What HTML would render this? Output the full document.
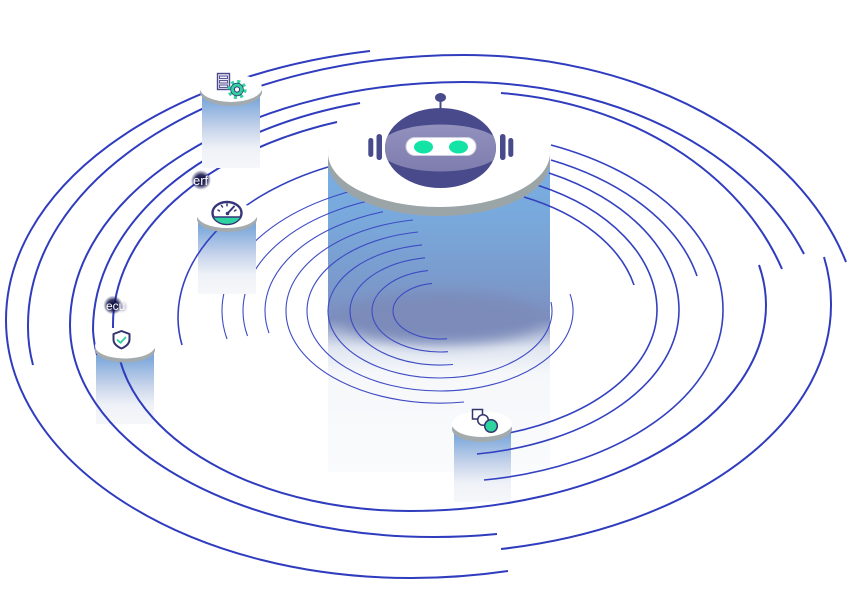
<!DOCTYPE html>
<html><head><meta charset="utf-8"><style>
html,body{margin:0;padding:0;background:#fff;}
svg{display:block;}
</style></head><body>
<svg width="854" height="592" viewBox="0 0 854 592" xmlns="http://www.w3.org/2000/svg">
<defs>
<linearGradient id="mc" x1="0" y1="153" x2="0" y2="472" gradientUnits="userSpaceOnUse">
<stop offset="0" stop-color="#79aee2"/>
<stop offset="0.2" stop-color="#79a9dc"/>
<stop offset="0.45" stop-color="#7b97c8"/>
<stop offset="0.52" stop-color="#7d8dbd"/>
<stop offset="0.61" stop-color="#dfe5f0"/>
<stop offset="0.69" stop-color="#f5f7fa"/>
<stop offset="1" stop-color="#fafbfc"/>
</linearGradient>
<linearGradient id="sc" x1="0" y1="0" x2="0" y2="1">
<stop offset="0" stop-color="#76a4da"/>
<stop offset="0.15" stop-color="#7ea9dc"/>
<stop offset="0.5" stop-color="#c6d3ea"/>
<stop offset="0.75" stop-color="#eef1f7"/>
<stop offset="1" stop-color="#f6f7fa"/>
</linearGradient>
<linearGradient id="band" x1="0" y1="0" x2="0" y2="1">
<stop offset="0" stop-color="#9290bd"/>
<stop offset="1" stop-color="#7f7dae"/>
</linearGradient>
<radialGradient id="blob">
<stop offset="0" stop-color="#0c0c36" stop-opacity="1"/>
<stop offset="0.55" stop-color="#14144a" stop-opacity="0.85"/>
<stop offset="1" stop-color="#20205a" stop-opacity="0"/>
</radialGradient>
<filter id="b8" x="-50%" y="-50%" width="200%" height="200%"><feGaussianBlur stdDeviation="7"/></filter>
<filter id="b2" x="-50%" y="-50%" width="200%" height="200%"><feGaussianBlur stdDeviation="1.5"/></filter>
<clipPath id="headclip"><ellipse cx="440.5" cy="148" rx="55.5" ry="40"/></clipPath>
<clipPath id="colclip"><rect x="328" y="150" width="222" height="325"/></clipPath>
</defs>

<rect width="854" height="592" fill="#fff"/>

<!-- main column -->
<rect x="328" y="150" width="222" height="322" fill="url(#mc)"/>
<g clip-path="url(#colclip)">
<ellipse cx="442" cy="318" rx="100" ry="26" fill="#7c8bba" filter="url(#b8)"/>
</g>

<!-- inner rings -->
<g fill="none" stroke="#3d4bc4" stroke-width="1.1">
<path d="M432,283.4 A47,28 0 0 0 393,311 A47,28 0 0 0 447,338.7"/>
<path d="M428,270.6 A68,41 0 0 0 372,311 A68,41 0 0 0 448,351.7"/>
<path d="M425,257.8 A90,54 0 0 0 350,311 A90,54 0 0 0 453,364.5"/>
<path d="M422,244.9 A112,67 0 0 0 328,311 A112,67 0 0 0 440,378 A112,67 0 0 0 551,302"/>
<path d="M418,232 A133,80 0 0 0 307,311 A133,80 0 0 0 440,391 A133,80 0 0 0 570,294"/>
<path d="M413,220 A154,92 0 0 0 286,311 A154,92 0 0 0 464,402"/>
<path d="M383,211.7 A175,105 0 0 0 265,311 A175,105 0 0 0 269,333"/>
<path d="M395,196 A197,118 0 0 0 243,311 A197,118 0 0 0 247.5,336"/>
<path d="M400,182 A218,131 0 0 0 222,311 A218,131 0 0 0 227,339"/>
</g>

<!-- small columns (in front of inner rings) -->
<rect x="198" y="215" width="58" height="79" fill="url(#sc)"/>
<rect x="96" y="346" width="58" height="78" fill="url(#sc)"/>
<rect x="454" y="424" width="57" height="78" fill="url(#sc)"/>

<!-- outer orbit lines -->
<g fill="none" stroke="#2f3cbe" stroke-width="2">
<path d="M370,51 A449,274 0 0 0 6,320 A404,258 0 0 0 410,578 A420,260 0 0 0 508,571"/>
<path d="M846,262 A397,285 0 0 0 463,55 A435,270 0 0 0 28,325 A400,240 0 0 0 33,365"/>
<path d="M804,254 A365,268 0 0 0 463,82 A393,243 0 0 0 70,325 A363,212 0 0 0 433,537 A380,220 0 0 0 497,534"/>
<path d="M360,103 A362,235 0 0 0 93,330 A300,190 0 0 0 97,355"/>
<path d="M337,122 A337,215 0 0 0 113,325 L113,328"/>
<path d="M120,360 A294,181 0 0 0 410,511 A356,206 0 0 0 766,305 A340,200 0 0 0 759,265"/>
<path d="M501,93 A330,263 0 0 1 782,269"/>
<path d="M824,257 A400,250 0 0 1 831,305 A401,248 0 0 1 501,549"/>
</g>
<g fill="none" stroke="#3341c0" stroke-width="1.6">
<path d="M551,145 A283,179 0 0 1 723,310 A283,172 0 0 1 484,480"/>
<path d="M551,160 A263,168 0 0 1 697,276"/>
<path d="M549,173 A239,154 0 0 1 679,310 A239,146 0 0 1 477,454"/>
<path d="M537,185 A217,140 0 0 1 657,310 A217,130 0 0 1 509,433"/>
<path d="M524,197 A198,127 0 0 1 634,285"/>
<path d="M328,167 A262,167 0 0 0 178,318 A262,160 0 0 0 182,345"/>
</g>

<!-- gear column (behind lines pass) -->
<rect x="202" y="88" width="58" height="80" fill="url(#sc)"/>

<!-- main disc -->
<ellipse cx="439" cy="162" rx="111" ry="54" fill="#9ba5a8"/>
<rect x="328" y="153" width="222" height="9" fill="#9ba5a8"/>
<ellipse cx="439" cy="153" rx="111" ry="54" fill="#ffffff"/>

<!-- small discs -->
<g>
<ellipse cx="231" cy="92" rx="31" ry="14" fill="#a3abae"/>
<ellipse cx="231" cy="88" rx="31" ry="14" fill="#fff"/>
<ellipse cx="227" cy="219" rx="30" ry="13" fill="#a3abae"/>
<ellipse cx="227" cy="215" rx="30" ry="13" fill="#fff"/>
<ellipse cx="125" cy="350" rx="30" ry="12.5" fill="#a3abae"/>
<ellipse cx="125" cy="346" rx="30" ry="12.5" fill="#fff"/>
<ellipse cx="482" cy="429" rx="30" ry="13" fill="#a3abae"/>
<ellipse cx="482" cy="424" rx="30" ry="13" fill="#fff"/>
</g>

<!-- robot -->
<g>
<line x1="440.5" y1="100" x2="440.5" y2="110" stroke="#484a8c" stroke-width="2"/>
<ellipse cx="440.5" cy="97.5" rx="5.5" ry="4.5" fill="#484a8c"/>
<ellipse cx="440.5" cy="148" rx="55.5" ry="40" fill="#484a8c"/>
<g clip-path="url(#headclip)">
<ellipse cx="440.5" cy="148" rx="62" ry="23.5" fill="url(#band)"/>
</g>
<rect x="406" y="137.5" width="70" height="18" rx="9" fill="#fff" stroke="#cfcfe0" stroke-width="1"/>
<ellipse cx="423.5" cy="147" rx="9.5" ry="6.5" fill="#14e3a6"/>
<ellipse cx="458.5" cy="147" rx="9.5" ry="6.5" fill="#14e3a6"/>
<rect x="368.3" y="138" width="5" height="19" rx="2.5" fill="#484a8c"/>
<rect x="376.5" y="134" width="5.5" height="26" rx="2.7" fill="#484a8c"/>
<rect x="500" y="134" width="5.5" height="26" rx="2.7" fill="#484a8c"/>
<rect x="508.3" y="138" width="5" height="19" rx="2.5" fill="#484a8c"/>
</g>

<!-- gear node icon -->
<g>
<rect x="217.5" y="73.5" width="12" height="16" fill="#eceaf4" stroke="#4a4a8c" stroke-width="1.4"/>
<rect x="219.5" y="76" width="8" height="2.5" fill="none" stroke="#4a4a8c" stroke-width="0.9"/>
<rect x="219.5" y="80.5" width="8" height="2.5" fill="none" stroke="#4a4a8c" stroke-width="0.9"/>
<rect x="219.5" y="85" width="8" height="2.5" fill="none" stroke="#4a4a8c" stroke-width="0.9"/>
<circle cx="237" cy="89.5" r="8" fill="none" stroke="#2ed3a0" stroke-width="3.2" stroke-dasharray="3 3.28"/>
<circle cx="237" cy="89.5" r="6.3" fill="#2ed3a0" stroke="#3a3a7a" stroke-width="0.8"/>
<circle cx="237" cy="89.5" r="2.6" fill="#fff" stroke="#3a3a7a" stroke-width="1"/>
</g>

<!-- perf gauge icon -->
<g>
<ellipse cx="227" cy="213" rx="14.5" ry="11" fill="#fff" stroke="#35357a" stroke-width="2.4"/>
<path d="M213.8,217 L240.2,217 A14,10.3 0 0 1 213.8,217 Z" fill="#2ed3a0"/>
<line x1="213.5" y1="217" x2="240.5" y2="217" stroke="#35357a" stroke-width="1.6"/>
<g stroke="#35357a" stroke-width="1.5" stroke-linecap="round">
<line x1="218" y1="210" x2="219.5" y2="211"/>
<line x1="221.5" y1="205.5" x2="222.5" y2="207"/>
<line x1="227" y1="204" x2="227" y2="205.8"/>
<line x1="236" y1="210" x2="234.5" y2="211"/>
<line x1="227.5" y1="213.5" x2="234" y2="206.5" stroke-width="2"/>
</g>
<circle cx="227.5" cy="213.5" r="1.8" fill="#35357a"/>
</g>

<!-- shield icon -->
<g>
<path d="M121.5,331 L129.5,334 L129.5,339.5 C129.5,344 126,346.5 121.5,348.5 C117,346.5 113.5,344 113.5,339.5 L113.5,334 Z" fill="#fff" stroke="#333370" stroke-width="2" stroke-linejoin="round"/>
<path d="M117.5,340 L120.5,342.8 L125.5,337.5" fill="none" stroke="#2ed3a0" stroke-width="1.8" stroke-linecap="round" stroke-linejoin="round"/>
</g>

<!-- 4th node icon -->
<g stroke="#333370" stroke-width="1.5">
<rect x="472.5" y="409.5" width="10" height="9.5" fill="#fff"/>
<circle cx="483" cy="420" r="5.3" fill="#fff"/>
<circle cx="491" cy="426" r="6.3" fill="#2ed3a0"/>
</g>

<!-- labels -->
<circle cx="201" cy="180" r="10" fill="url(#blob)"/>
<text x="193" y="185" font-family="Liberation Sans, sans-serif" font-size="13" fill="#1a1a50" filter="url(#b2)">erf</text>
<text x="193" y="185" font-family="Liberation Sans, sans-serif" font-size="13" fill="#ffffff">erf</text>
<circle cx="113" cy="305" r="9.5" fill="url(#blob)"/>
<text x="106" y="310" font-family="Liberation Sans, sans-serif" font-size="12" fill="#1a1a50" filter="url(#b2)">ecu</text>
<text x="106" y="310" font-family="Liberation Sans, sans-serif" font-size="12" fill="#ffffff">ecu</text>
</svg>
</body></html>
